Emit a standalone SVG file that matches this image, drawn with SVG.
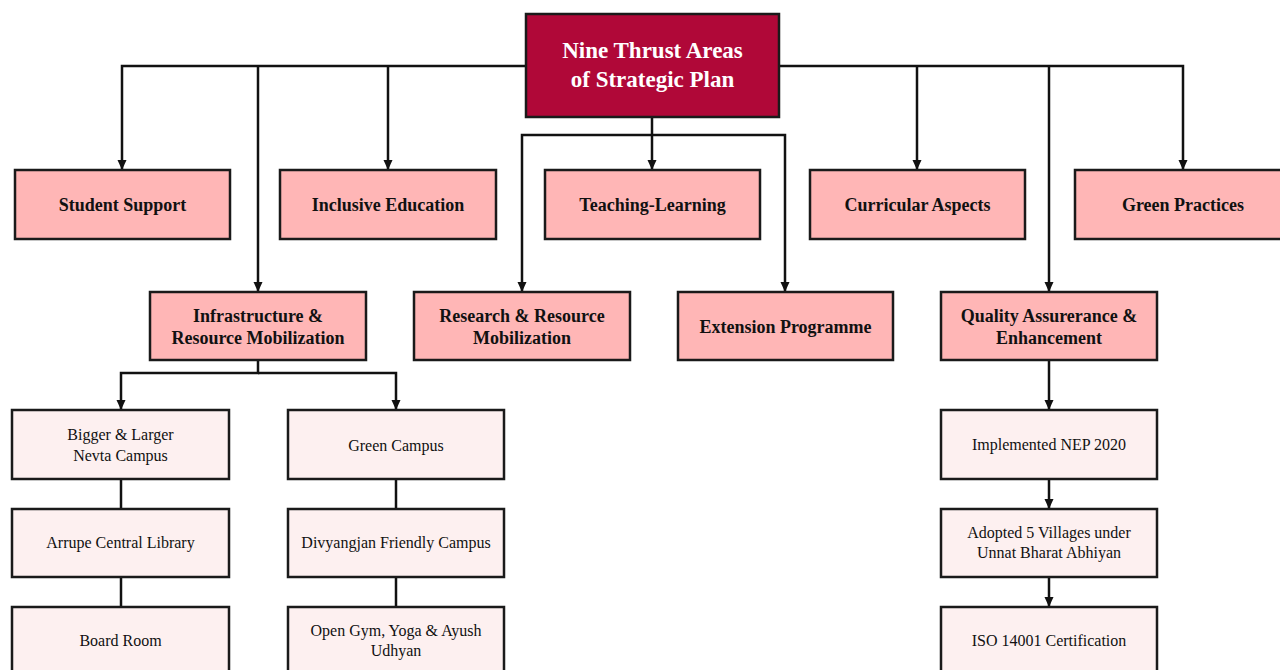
<svg xmlns="http://www.w3.org/2000/svg" width="1280" height="670" viewBox="0 0 1280 670">
<style>
.root{fill:#B00838;stroke:#1a1a1a;stroke-width:2.5}
.l1{fill:#FFB6B6;stroke:#1a1a1a;stroke-width:2.5}
.l3{fill:#FDF0F0;stroke:#1a1a1a;stroke-width:2.5}
.tr{font-family:"Liberation Serif","Times New Roman",serif;font-weight:bold;font-size:23px;fill:#fff;text-anchor:middle}
.t1{font-family:"Liberation Serif","Times New Roman",serif;font-weight:bold;font-size:18px;fill:#111;text-anchor:middle}
.t3{font-family:"Liberation Serif","Times New Roman",serif;font-size:16px;fill:#111;text-anchor:middle}
.c{fill:none;stroke:#111;stroke-width:2.5}
</style>
<defs>
<marker id="ah" viewBox="0 0 10 10" refX="10" refY="5" markerWidth="10" markerHeight="10" markerUnits="userSpaceOnUse" orient="auto">
<path d="M0,0.5 L10,5 L0,9.5 z" fill="#111"/>
</marker>
</defs>
<rect width="1280" height="670" fill="#fff"/>
<g id="connectors">
<path class="c" d="M526,66 H122 V170" marker-end="url(#ah)"/>
<path class="c" d="M258,66 V292" marker-end="url(#ah)"/>
<path class="c" d="M388,66 V170" marker-end="url(#ah)"/>
<path class="c" d="M779,66 H1183 V170" marker-end="url(#ah)"/>
<path class="c" d="M917,66 V170" marker-end="url(#ah)"/>
<path class="c" d="M1049,66 V292" marker-end="url(#ah)"/>
<path class="c" d="M652,117 V170" marker-end="url(#ah)"/>
<path class="c" d="M652,135 H522 V292" marker-end="url(#ah)"/>
<path class="c" d="M652,135 H785 V292" marker-end="url(#ah)"/>
<path class="c" d="M258,360 V373 H121 V410" marker-end="url(#ah)"/>
<path class="c" d="M258,373 H396 V410" marker-end="url(#ah)"/>
<path class="c" d="M121,479 V509"/>
<path class="c" d="M121,577 V607"/>
<path class="c" d="M396,479 V509"/>
<path class="c" d="M396,577 V607"/>
<path class="c" d="M1049,360 V410" marker-end="url(#ah)"/>
<path class="c" d="M1049,479 V509" marker-end="url(#ah)"/>
<path class="c" d="M1049,577 V607" marker-end="url(#ah)"/>
</g>
<g id="root">
<rect class="root" x="526" y="14" width="253" height="103"/>
<text class="tr" x="652.5" y="58">Nine Thrust Areas</text>
<text class="tr" x="652.5" y="87">of Strategic Plan</text>
</g>
<g id="student-support">
<rect class="l1" x="15" y="170" width="215" height="69"/>
<text class="t1" x="122.5" y="211">Student Support</text>
</g>
<g id="inclusive-education">
<rect class="l1" x="280" y="170" width="216" height="69"/>
<text class="t1" x="388" y="211">Inclusive Education</text>
</g>
<g id="teaching-learning">
<rect class="l1" x="545" y="170" width="215" height="69"/>
<text class="t1" x="652.5" y="211">Teaching-Learning</text>
</g>
<g id="curricular-aspects">
<rect class="l1" x="810" y="170" width="215" height="69"/>
<text class="t1" x="917.5" y="211">Curricular Aspects</text>
</g>
<g id="green-practices">
<rect class="l1" x="1075" y="170" width="216" height="69"/>
<text class="t1" x="1183" y="211">Green Practices</text>
</g>
<g id="infrastructure">
<rect class="l1" x="150" y="292" width="216" height="68"/>
<text class="t1" x="258" y="322">Infrastructure &amp;</text>
<text class="t1" x="258" y="344">Resource Mobilization</text>
</g>
<g id="research">
<rect class="l1" x="414" y="292" width="216" height="68"/>
<text class="t1" x="522" y="322">Research &amp; Resource</text>
<text class="t1" x="522" y="344">Mobilization</text>
</g>
<g id="extension">
<rect class="l1" x="678" y="292" width="215" height="68"/>
<text class="t1" x="785.5" y="333">Extension Programme</text>
</g>
<g id="quality">
<rect class="l1" x="941" y="292" width="216" height="68"/>
<text class="t1" x="1049" y="322">Quality Assurerance &amp;</text>
<text class="t1" x="1049" y="344">Enhancement</text>
</g>
<g id="bigger-campus">
<rect class="l3" x="12" y="410" width="217" height="69"/>
<text class="t3" x="120.5" y="440">Bigger &amp; Larger</text>
<text class="t3" x="120.5" y="461">Nevta Campus</text>
</g>
<g id="library">
<rect class="l3" x="12" y="509" width="217" height="68"/>
<text class="t3" x="120.5" y="548">Arrupe Central Library</text>
</g>
<g id="board-room">
<rect class="l3" x="12" y="607" width="217" height="70"/>
<text class="t3" x="120.5" y="646">Board Room</text>
</g>
<g id="green-campus">
<rect class="l3" x="288" y="410" width="216" height="69"/>
<text class="t3" x="396" y="451">Green Campus</text>
</g>
<g id="divyangjan">
<rect class="l3" x="288" y="509" width="216" height="68"/>
<text class="t3" x="396" y="548">Divyangjan Friendly Campus</text>
</g>
<g id="open-gym">
<rect class="l3" x="288" y="607" width="216" height="70"/>
<text class="t3" x="396" y="636">Open Gym, Yoga &amp; Ayush</text>
<text class="t3" x="396" y="656">Udhyan</text>
</g>
<g id="nep">
<rect class="l3" x="941" y="410" width="216" height="69"/>
<text class="t3" x="1049" y="450">Implemented NEP 2020</text>
</g>
<g id="villages">
<rect class="l3" x="941" y="509" width="216" height="68"/>
<text class="t3" x="1049" y="538">Adopted 5 Villages under</text>
<text class="t3" x="1049" y="558">Unnat Bharat Abhiyan</text>
</g>
<g id="iso">
<rect class="l3" x="941" y="607" width="216" height="70"/>
<text class="t3" x="1049" y="646">ISO 14001 Certification</text>
</g>
</svg>
